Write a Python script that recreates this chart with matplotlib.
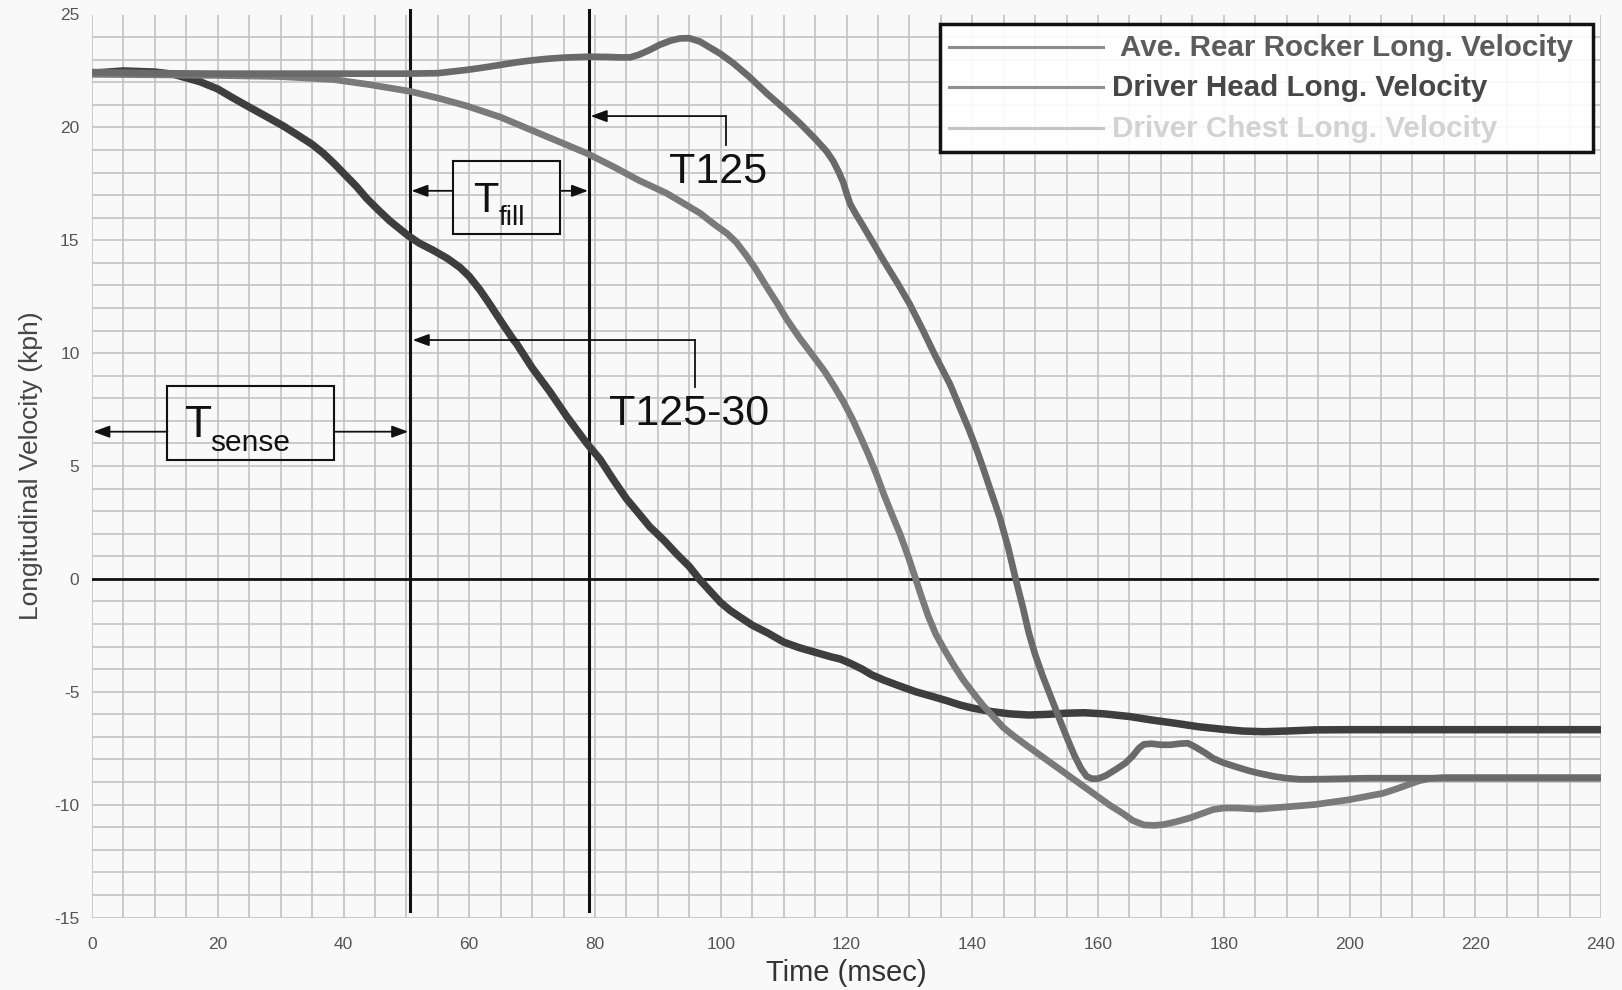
import matplotlib
matplotlib.use("Agg")
import matplotlib.pyplot as plt
from matplotlib.patches import Rectangle, FancyArrowPatch, ArrowStyle

plt.rcParams['font.family'] = ['Liberation Sans', 'DejaVu Sans']
plt.rcParams['axes.unicode_minus'] = False

# ---------------- data ----------------
rocker_t = [0, 5, 10, 13, 17.2, 20, 22.5, 25, 27.8, 30.5, 33.1, 35, 36.8, 38.5, 40, 42,
            43.7, 45.5, 47.4, 50.3, 52, 54.3, 56.5, 58.5, 60, 61.7, 63.3, 64.9, 67, 67.5,
            70, 72.8, 75.5, 78.7, 80.8, 82.9, 85, 86.8, 88.7, 91, 93, 95, 96.7, 98.5,
            100, 101.5, 103.1, 105, 107.5, 110, 112.5, 115, 117.5, 119, 120.6, 122.5,
            124, 125.9, 128.5, 131, 133.8, 136, 138.1, 140, 143.1, 146, 149, 152, 155,
            157.8, 161, 165.1, 168.5, 172.4, 176, 179.7, 183, 186.4, 190, 194.4, 200, 240]
rocker_v = [22.4, 22.5, 22.45, 22.35, 22.02, 21.7, 21.29, 20.9, 20.47, 20.05, 19.59,
            19.25, 18.85, 18.4, 17.97, 17.4, 16.85, 16.35, 15.85, 15.2, 14.88, 14.55,
            14.2, 13.8, 13.4, 12.8, 12.15, 11.47, 10.6, 10.43, 9.35, 8.3, 7.2, 6.0, 5.3,
            4.4, 3.55, 2.95, 2.31, 1.7, 1.1, 0.55, -0.05, -0.6, -1.05, -1.4, -1.7, -2.05,
            -2.4, -2.8, -3.05, -3.25, -3.45, -3.55, -3.74, -4.0, -4.25, -4.48, -4.75,
            -5.0, -5.22, -5.4, -5.59, -5.72, -5.88, -5.98, -6.03, -6.0, -5.95, -5.93,
            -5.98, -6.1, -6.25, -6.4, -6.55, -6.66, -6.74, -6.77, -6.74, -6.69, -6.68,
            -6.68]

head_t = [0, 10, 20, 30, 40, 50, 55, 57.5, 60, 62.5, 65, 67.5, 70, 72.5, 75, 79, 82,
          84, 85.6, 87, 88.7, 90.3, 92, 93.5, 95, 96.7, 98.5, 100, 102, 104.5, 107.3,
          110, 112.6, 115, 116.8, 117.9, 118.8, 119.5, 120.1, 120.6, 121.5, 122.5,
          124.3, 126, 128, 130, 132, 134, 136.5, 138, 139.5, 140.8, 141.8, 143, 144.4,
          145.7, 146.9, 148, 149, 150, 151.2, 152.7, 154, 155.3, 156.3, 157.3, 158.2,
          159, 160, 161.2, 162.5, 163.5, 164.4, 165.5, 166.5, 167.3, 168.5, 170, 171.5,
          173, 174.3, 175.5, 177, 178.3, 180, 182, 184, 185.6, 188, 190, 192.2, 196,
          202.8, 240]
head_v = [22.45, 22.4, 22.38, 22.38, 22.38, 22.38, 22.4, 22.48, 22.56, 22.66, 22.77,
          22.88, 22.97, 23.04, 23.09, 23.13, 23.12, 23.1, 23.1, 23.22, 23.43, 23.66,
          23.84, 23.94, 23.95, 23.8, 23.5, 23.25, 22.84, 22.25, 21.51, 20.85, 20.18,
          19.5, 18.95, 18.5, 18.0, 17.55, 17.0, 16.6, 16.15, 15.7, 14.85, 14.05, 13.15,
          12.2, 11.1, 9.95, 8.6, 7.6, 6.6, 5.65, 4.85, 3.85, 2.7, 1.4, 0.0, -1.2, -2.4,
          -3.35, -4.3, -5.37, -6.3, -7.2, -7.85, -8.4, -8.75, -8.85, -8.85, -8.72,
          -8.5, -8.32, -8.15, -7.85, -7.5, -7.33, -7.3, -7.35, -7.35, -7.3, -7.28,
          -7.45, -7.7, -7.95, -8.15, -8.33, -8.5, -8.61, -8.75, -8.83, -8.88, -8.87,
          -8.83, -8.83]

chest_t = [0, 10, 20, 30, 38.4, 44, 50.5, 55, 59.6, 65, 69.7, 74, 78.7, 83, 87, 91.4,
           94, 96.7, 99, 101, 102.5, 104, 105.5, 107.3, 109, 110.5, 112.6, 114.5, 116.5,
           118, 119.5, 121, 122.3, 123.5, 124.8, 126, 127.3, 128.5, 129.8, 131, 132, 133,
           134.2, 135.5, 137, 138.5, 140, 141.7, 143.5, 145, 146.8, 148.5, 150.5, 152.5,
           154.1, 156, 158, 160, 162, 164, 165.5, 167.3, 169, 170.5, 172.4, 174.5, 176.5,
           178.3, 180, 182, 185.6, 189, 194.4, 200, 203, 205.3, 207.5, 209.5, 211, 212.6,
           215, 220, 240]
chest_v = [22.35, 22.33, 22.3, 22.25, 22.12, 21.9, 21.6, 21.3, 20.95, 20.45, 19.9,
           19.4, 18.85, 18.25, 17.65, 17.08, 16.65, 16.2, 15.7, 15.3, 14.9, 14.35, 13.75,
           12.94, 12.2, 11.5, 10.65, 9.95, 9.2, 8.55, 7.85, 7.05, 6.25, 5.5, 4.6, 3.7,
           2.8, 2.0, 1.0, 0.0, -0.85, -1.65, -2.45, -3.1, -3.8, -4.45, -5.0, -5.6, -6.15,
           -6.6, -7.0, -7.35, -7.75, -8.15, -8.47, -8.85, -9.25, -9.65, -10.05, -10.4,
           -10.7, -10.9, -10.92, -10.88, -10.76, -10.6, -10.4, -10.22, -10.15, -10.15,
           -10.2, -10.12, -10.0, -9.78, -9.62, -9.5, -9.3, -9.1, -8.95, -8.85, -8.8, -8.8,
           -8.8]

legend_labels = ["Ave. Rear Rocker Long. Velocity",
                 "Driver Head Long. Velocity",
                 "Driver Chest Long. Velocity"]

x_ticks = list(range(0, 241, 20))
y_ticks = list(range(-15, 26, 5))

t_sense_line = 50.5
t_fill_line = 79

# ---------------- figure ----------------
bg = '#f9f9f9'
fig = plt.figure(figsize=(16.22, 9.9), dpi=100, facecolor=bg)
ax = fig.add_axes([92 / 1622, 72.5 / 990, 1509 / 1622, 903 / 990])
ax.set_facecolor(bg)

ax.set_xlim(0, 240)
ax.set_ylim(-15, 25)
ax.set_xticks(x_ticks)
ax.set_yticks(y_ticks)
ax.set_xticks(range(0, 241, 5), minor=True)
ax.set_yticks(range(-15, 26, 1), minor=True)
ax.grid(which='both', color='#c2c2c2', lw=1.2)
ax.set_axisbelow(True)
for s in ax.spines.values():
    s.set_visible(False)
ax.tick_params(which='both', length=0)
ax.tick_params(axis='x', pad=14, labelsize=12.5, labelcolor='#555555')
ax.tick_params(axis='y', pad=9, labelsize=12.5, labelcolor='#555555')

ax.set_xlabel("Time (msec)", fontsize=21, color='#333333', labelpad=5)
ax.set_ylabel("Longitudinal Velocity (kph)", fontsize=19, color='#444444', labelpad=8)

# reference lines
ax.plot([0, 239.4], [0, 0], color='#111111', lw=2.0, zorder=3)
for xv in (t_sense_line, t_fill_line):
    ax.plot([xv, xv], [-14.7, 25.2], color='#111111', lw=2.2, zorder=3, clip_on=False)

# curves
ckw = dict(solid_capstyle='butt', solid_joinstyle='round')
ax.plot(rocker_t, rocker_v, color='#3e3e3e', lw=5.4, zorder=4, **ckw)
ax.plot(chest_t, chest_v, color='#7a7a7a', lw=4.8, zorder=5, **ckw)
ax.plot(head_t, head_v, color='#6a6a6a', lw=4.8, zorder=6, **ckw)

# annotations
astyle = ArrowStyle('-|>', head_length=0.7, head_width=0.26)

def arrow(x0, y0, x1, y1):
    ax.add_patch(FancyArrowPatch((x0, y0), (x1, y1), arrowstyle=astyle,
                                 mutation_scale=14, color='#111111', lw=1.3,
                                 shrinkA=0, shrinkB=0, zorder=7))

def seg(xs, ys):
    ax.plot(xs, ys, color='#111111', lw=1.3, zorder=7)

tc = '#111111'
# T125
seg([100.8, 100.8], [19.2, 20.5])
arrow(100.8, 20.5, 79.3, 20.5)
ax.text(99.6, 17.54, "T125", fontsize=31, color=tc, ha='center', va='baseline', zorder=8)

# T125-30
seg([95.9, 95.9], [8.5, 10.58])
arrow(95.9, 10.58, 51.0, 10.58)
ax.text(94.9, 6.82, "T125-30", fontsize=31, color=tc, ha='center', va='baseline', zorder=8)

# T fill box
ax.add_patch(Rectangle((57.4, 15.28), 74.4 - 57.4, 18.51 - 15.28, fill=False,
                       edgecolor='#111111', lw=1.5, zorder=7))
arrow(57.4, 17.19, 50.8, 17.19)
arrow(74.4, 17.19, 78.9, 17.19)
ax.text(60.6, 16.27, "T", fontsize=30, color=tc, ha='left', va='baseline', zorder=8)
ax.text(64.7, 15.68, "fill", fontsize=20, color=tc, ha='left', va='baseline', zorder=8)

# T sense box
ax.add_patch(Rectangle((12.0, 5.27), 38.5 - 12.0, 8.55 - 5.27, fill=False,
                       edgecolor='#111111', lw=1.5, zorder=7))
arrow(12.0, 6.52, 0.2, 6.52)
arrow(38.5, 6.52, 50.3, 6.52)
ax.text(14.8, 6.30, "T", fontsize=32, color=tc, ha='left', va='baseline', zorder=8)
ax.text(18.8, 5.68, "sense", fontsize=21.5, color=tc, ha='left', va='baseline', zorder=8)

# legend (drawn manually)
ax.add_patch(Rectangle((134.9, 18.91), 238.7 - 134.9, 24.58 - 18.91, facecolor='white',
                       alpha=0.9, edgecolor='none', zorder=8))
ax.add_patch(Rectangle((134.9, 18.91), 238.7 - 134.9, 24.58 - 18.91, fill=False,
                       edgecolor='#111111', lw=2.5, zorder=9))
leg_y = [23.55, 21.8, 19.97]
leg_line_col = ['#8c8c8c', '#8f8f8f', '#c4c4c4']
leg_txt_col = ['#5c5c5c', '#474747', '#d2d2d2']
leg_txt_x = [163.5, 162.2, 162.2]
for lab, yy, lc, tcol, tx in zip(legend_labels, leg_y, leg_line_col, leg_txt_col, leg_txt_x):
    ax.plot([136.3, 160.8], [yy, yy], color=lc, lw=2.2, zorder=10)
    ax.text(tx, yy - 0.05, lab, fontsize=21.3, fontweight='bold', color=tcol,
            ha='left', va='center', zorder=10)

fig.savefig("out.png", dpi=100, facecolor=bg)
